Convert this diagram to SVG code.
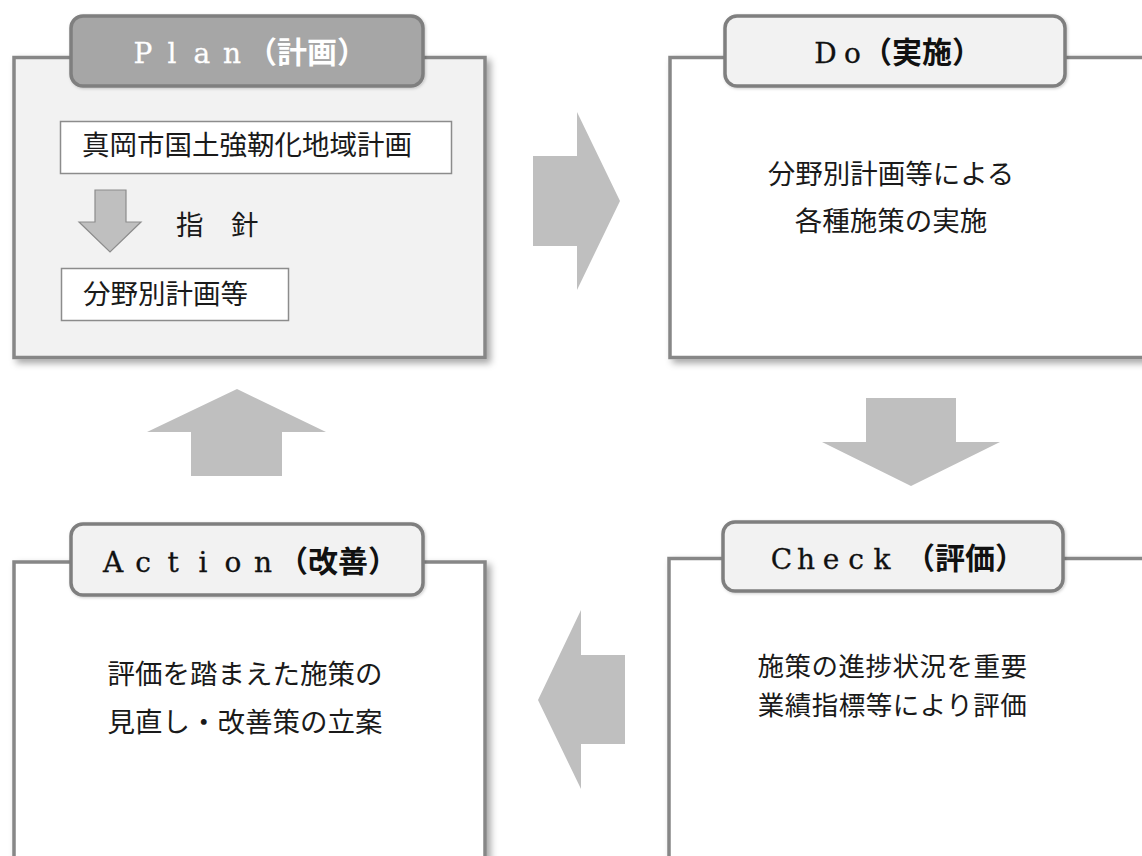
<svg xmlns="http://www.w3.org/2000/svg" width="1142" height="856" viewBox="0 0 1142 856">
<style>
.frame{stroke:#878787;stroke-width:3.5;}
.tab{stroke:#7f7f7f;stroke-width:3.5;}
.inner{fill:#ffffff;stroke:#8c8c8c;stroke-width:1.5;}
.ttl{font-family:"DejaVu Serif","Liberation Serif","Noto Sans CJK JP",serif;font-size:28px;fill:#111;stroke:#111;stroke-width:0.3;}
.cjk{font-family:"Noto Sans CJK JP",sans-serif;font-weight:bold;font-size:30px;stroke:none;}
.body{font-family:"Noto Sans CJK JP",sans-serif;font-size:27.5px;fill:#1a1a1a;}
.tight{font-size:26.5px;letter-spacing:0.5px;}
.mid{text-anchor:middle;}
.big{fill:#bfbfbf;}
</style>
<defs>
<filter id="sh" x="-5%" y="-5%" width="115%" height="115%">
<feDropShadow dx="4" dy="4" stdDeviation="3.5" flood-color="#000" flood-opacity="0.35"/>
</filter>
<filter id="tsh" x="-5%" y="-10%" width="110%" height="125%">
<feDropShadow dx="1" dy="1" stdDeviation="1.5" flood-color="#000" flood-opacity="0.2"/>
</filter>
</defs>
<rect width="1142" height="856" fill="#ffffff"/>

<g id="plan">
<rect class="frame" x="14" y="57.5" width="471" height="300" fill="#f2f2f2" filter="url(#sh)"/>
<rect class="tab" x="71" y="16" width="352" height="70" rx="12" fill="#a6a6a6" filter="url(#tsh)"/>
<text class="ttl" y="63" style="fill:#ffffff;stroke:#ffffff"><tspan x="133.5 167.5 193.6 223">Plan</tspan><tspan x="247" class="cjk">（計画）</tspan></text>
<rect class="inner" x="60.5" y="121.5" width="391" height="52"/>
<text class="body" x="82" y="155">真岡市国土強靭化地域計画</text>
<text class="body" x="176" y="235">指　針</text>
<rect class="inner" x="61.5" y="268.5" width="227" height="52"/>
<text class="body" x="83" y="304">分野別計画等</text>
</g>

<g id="do">
<rect class="frame" x="670" y="57.5" width="500" height="300" fill="#ffffff" filter="url(#sh)"/>
<rect class="tab" x="725" y="16" width="340" height="70" rx="12" fill="#f2f2f2" filter="url(#tsh)"/>
<text class="ttl" y="63"><tspan x="814.2 844">Do</tspan><tspan x="862" class="cjk">（実施）</tspan></text>
<text class="body mid"><tspan x="891" y="184">分野別計画等による</tspan><tspan x="891" y="231">各種施策の実施</tspan></text>
</g>

<g id="check">
<rect class="frame" x="669" y="558.5" width="500" height="320" fill="#ffffff" filter="url(#sh)"/>
<rect class="tab" x="723" y="522" width="340" height="69" rx="12" fill="#f2f2f2" filter="url(#tsh)"/>
<text class="ttl" y="569"><tspan x="770.7 797 822.7 848.2 873.4">Check</tspan><tspan x="905" class="cjk">（評価）</tspan></text>
<text class="body tight mid"><tspan x="892.5" y="676">施策の進捗状況を重要</tspan><tspan x="892.5" y="715">業績指標等により評価</tspan></text>
</g>

<g id="action">
<rect class="frame" x="14" y="562" width="471" height="320" fill="#ffffff" filter="url(#sh)"/>
<rect class="tab" x="71" y="524" width="352" height="71" rx="12" fill="#f2f2f2" filter="url(#tsh)"/>
<text class="ttl" y="572"><tspan x="102.9 135.2 167.4 198.5 224.6 254">Action</tspan><tspan x="278" class="cjk">（改善）</tspan></text>
<text class="body mid"><tspan x="245" y="684">評価を踏まえた施策の</tspan><tspan x="245" y="732">見直し・改善策の立案</tspan></text>
</g>

<g id="connectors">
<path d="M95,190 L126,190 L126,222 L141,222 L110,252 L79,222 L95,222 Z" fill="#bfbfbf" stroke="#8c8c8c" stroke-width="1.2"/>
<path class="big" d="M533,156 L577,156 L577,112 L620,201 L577,290 L577,246 L533,246 Z"/>
<path class="big" d="M866,398 L956,398 L956,442 L1000,442 L911,486 L822,442 L866,442 Z"/>
<path class="big" d="M538,700 L581,610 L581,655 L625,655 L625,744 L581,744 L581,789 Z"/>
<path class="big" d="M237,389 L326,432 L282,432 L282,476 L191,476 L191,432 L147,432 Z"/>
</g>
</svg>
